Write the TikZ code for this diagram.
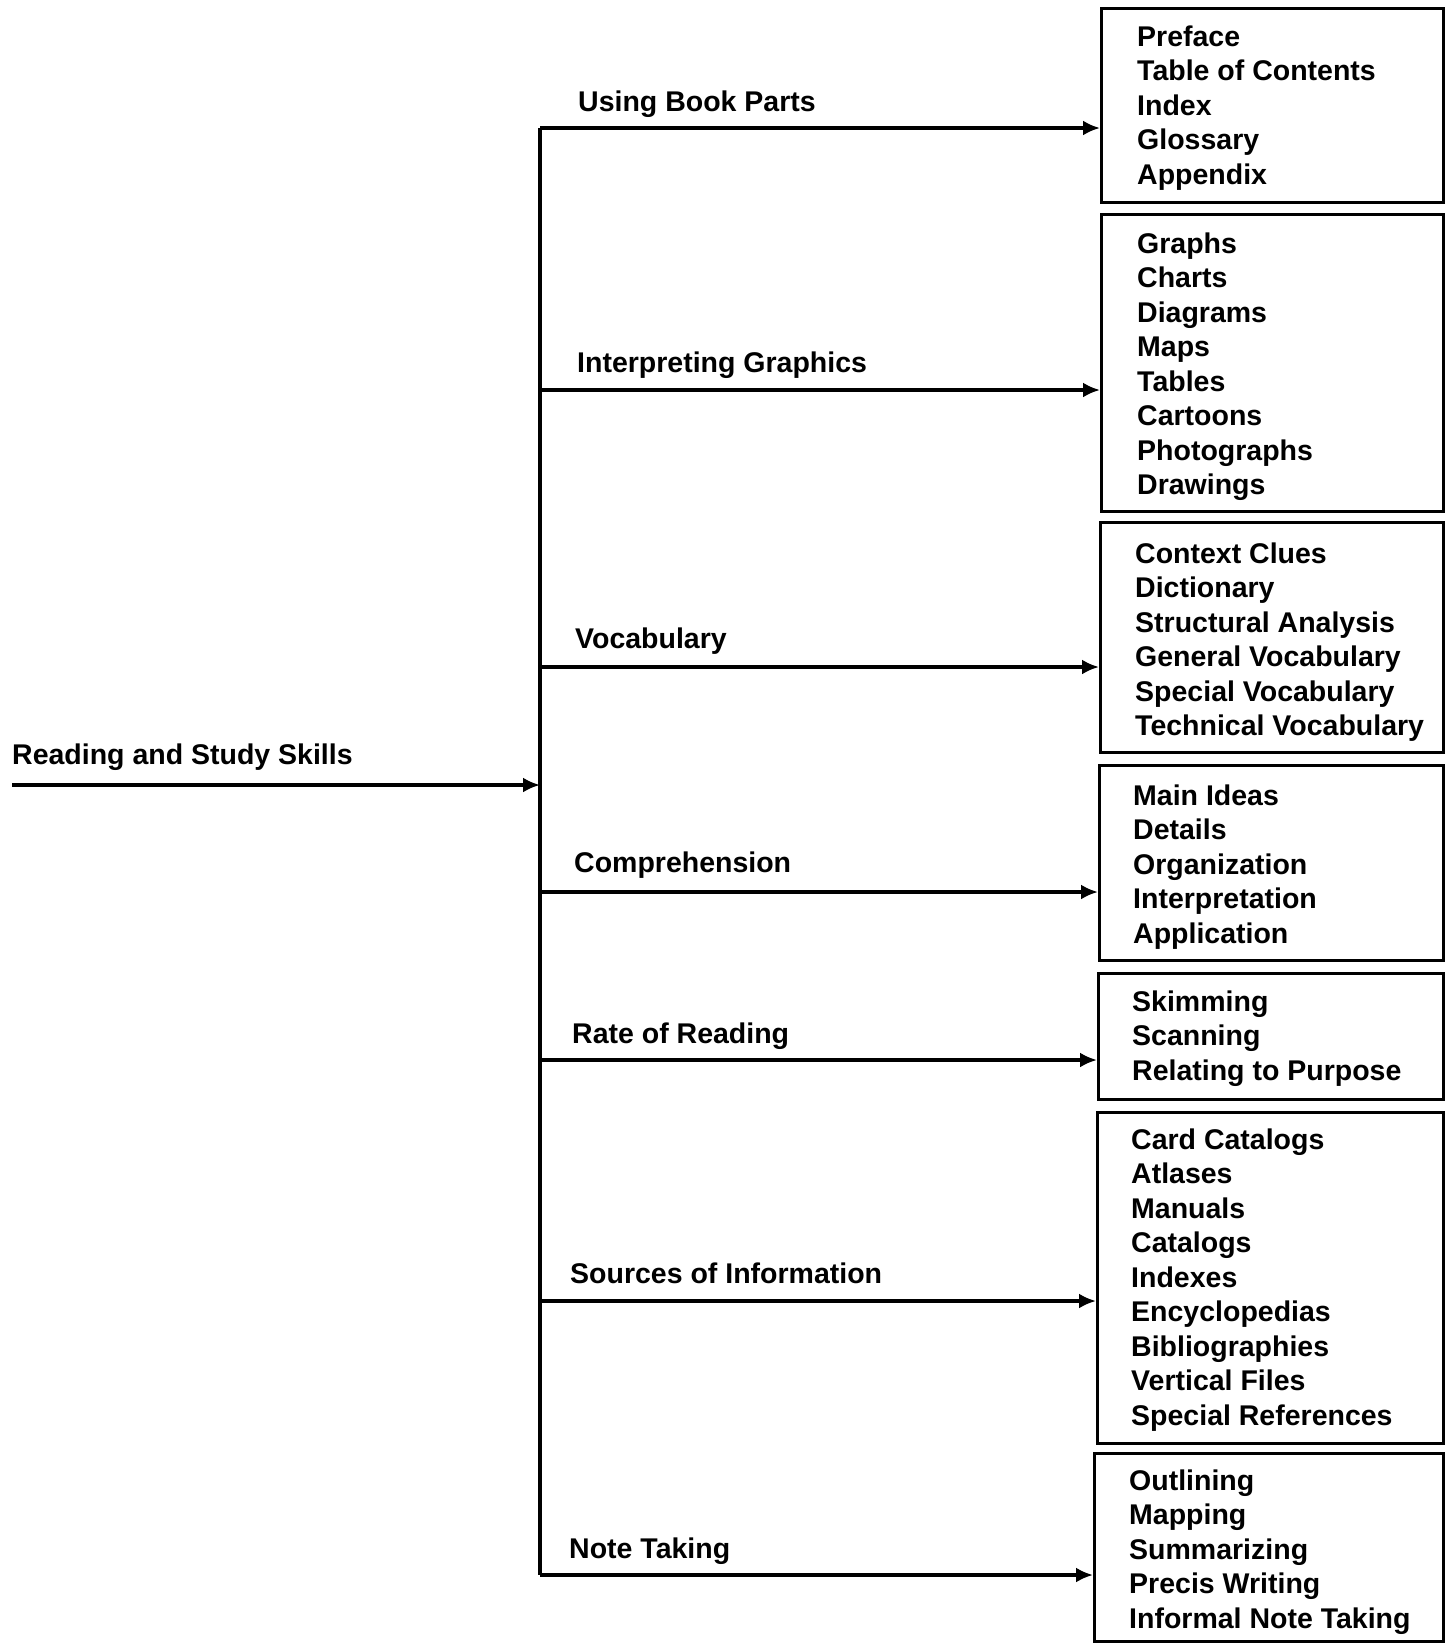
\documentclass[tikz,border=0pt]{standalone}
\usepackage{fontspec}
\setmainfont{Liberation Sans}
\usetikzlibrary{arrows.meta}
\begin{document}
\begin{tikzpicture}[x=1pt,y=-1pt,
  txt/.style={anchor=base west, inner sep=0pt, font=\fontsize{28.5}{34}\selectfont\bfseries},
  ln/.style={line width=3.2pt},
  arr/.style={line width=3.2pt, -{Latex[length=17pt,width=15pt]}},
  bx/.style={draw, line width=3.2pt, anchor=north west, inner sep=0pt}]
\useasboundingbox (0,0) rectangle (1445,1644);
% root
\node[txt] (root) at (12,764) {Reading and Study Skills};
\coordinate (rs) at (12,785);
\coordinate (rt) at (540,785);
\coordinate (ttop) at (540,128);
\coordinate (tbot) at (540,1575);
\draw[ln] (ttop) -- (tbot);
\draw[arr] (rs) -- (rt);
% trunk junctions
\coordinate (j1) at (540,128);
\coordinate (j2) at (540,390);
\coordinate (j3) at (540,667);
\coordinate (j4) at (540,892);
\coordinate (j5) at (540,1060);
\coordinate (j6) at (540,1301);
\coordinate (j7) at (540,1575);
% labels
\node[txt] (l1) at (578,111) {Using Book Parts};
\node[txt] (l2) at (577,372) {Interpreting Graphics};
\node[txt] (l3) at (575,648) {Vocabulary};
\node[txt] (l4) at (574,872) {Comprehension};
\node[txt] (l5) at (572,1043) {Rate of Reading};
\node[txt] (l6) at (570,1283) {Sources of Information};
\node[txt] (l7) at (569,1558) {Note Taking};
% boxes
\node[bx, minimum width=342pt, minimum height=194pt] (b1) at (1100,7) {};
\node[bx, minimum width=342pt, minimum height=297pt] (b2) at (1100,213) {};
\node[bx, minimum width=343pt, minimum height=230pt] (b3) at (1099,521) {};
\node[bx, minimum width=344pt, minimum height=195pt] (b4) at (1098,764) {};
\node[bx, minimum width=345pt, minimum height=126pt] (b5) at (1097,972) {};
\node[bx, minimum width=346pt, minimum height=331pt] (b6) at (1096,1111) {};
\node[bx, minimum width=349pt, minimum height=188pt] (b7) at (1093,1452) {};
% branches
\draw[arr] (j1) -- (b1.west |- j1);
\draw[arr] (j2) -- (b2.west |- j2);
\draw[arr] (j3) -- (b3.west |- j3);
\draw[arr] (j4) -- (b4.west |- j4);
\draw[arr] (j5) -- (b5.west |- j5);
\draw[arr] (j6) -- (b6.west |- j6);
\draw[arr] (j7) -- (b7.west |- j7);
% items
\foreach \s [count=\i from 0] in {Preface,Table of Contents,Index,Glossary,Appendix}
  \node[txt] (u\i) at (1137,{46+34.5*\i}) {\s};
\foreach \s [count=\i from 0] in {Graphs,Charts,Diagrams,Maps,Tables,Cartoons,Photographs,Drawings}
  \node[txt] (g\i) at (1137,{253+34.5*\i}) {\s};
\foreach \s [count=\i from 0] in {Context Clues,Dictionary,Structural Analysis,General Vocabulary,Special Vocabulary,Technical Vocabulary}
  \node[txt] (v\i) at (1135,{563+34.5*\i}) {\s};
\foreach \s [count=\i from 0] in {Main Ideas,Details,Organization,Interpretation,Application}
  \node[txt] (c\i) at (1133,{805+34.5*\i}) {\s};
\foreach \s [count=\i from 0] in {Skimming,Scanning,Relating to Purpose}
  \node[txt] (r\i) at (1132,{1011+34.5*\i}) {\s};
\foreach \s [count=\i from 0] in {Card Catalogs,Atlases,Manuals,Catalogs,Indexes,Encyclopedias,Bibliographies,Vertical Files,Special References}
  \node[txt] (s\i) at (1131,{1149+34.5*\i}) {\s};
\foreach \s [count=\i from 0] in {Outlining,Mapping,Summarizing,Precis Writing,Informal Note Taking}
  \node[txt] (n\i) at (1129,{1490+34.5*\i}) {\s};
\end{tikzpicture}
\end{document}
